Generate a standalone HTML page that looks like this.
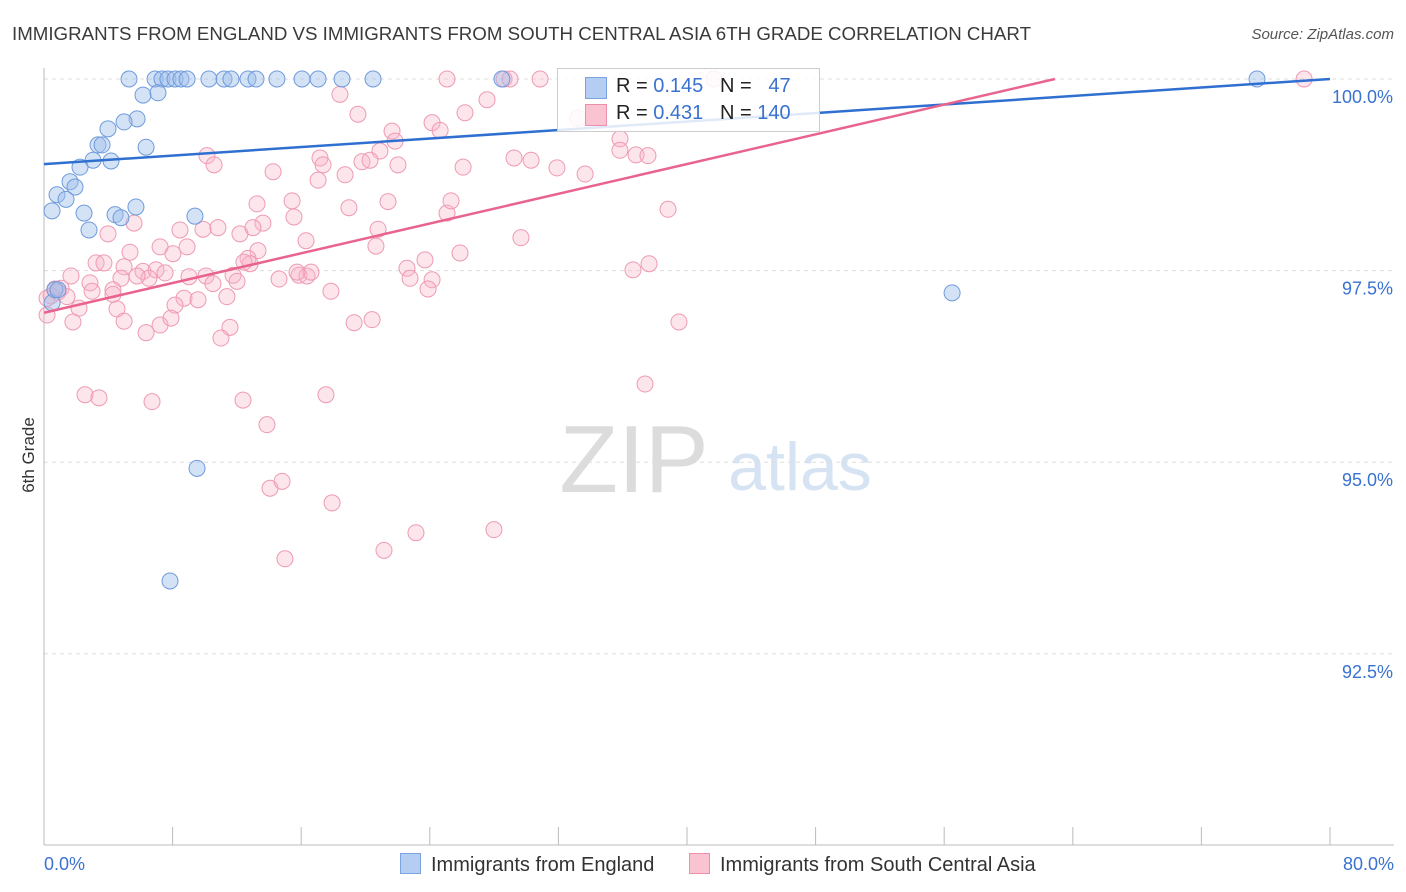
<!DOCTYPE html>
<html><head><meta charset="utf-8">
<style>
body{margin:0;background:#fff;font-family:"Liberation Sans",sans-serif;}
#wrap{position:relative;width:1406px;height:892px;overflow:hidden;}
svg text{font-family:"Liberation Sans",sans-serif;}
</style></head>
<body><div id="wrap">
<svg id="c" width="1406" height="892">
<text x="12" y="40" font-size="18" fill="#3a3a3a" textLength="1019" lengthAdjust="spacingAndGlyphs">IMMIGRANTS FROM ENGLAND VS IMMIGRANTS FROM SOUTH CENTRAL ASIA 6TH GRADE CORRELATION CHART</text>
<text x="1394" y="39" font-size="15" fill="#555" text-anchor="end" font-style="italic">Source: ZipAtlas.com</text>
<text x="34" y="455" font-size="17" fill="#333" transform="rotate(-90 34 455)" text-anchor="middle">6th Grade</text>
<text x="634" y="492" font-size="96" fill="#dcdcdc" font-family="Liberation Serif" text-anchor="middle">ZIP</text>
<text x="800" y="490" font-size="68" fill="#d5e3f3" text-anchor="middle">atlas</text>
<g id="grid"></g><g id="pts"></g><g id="lines"></g>
</svg>
<div style="position:absolute;left:557px;top:68px;width:261px;height:62px;border:1px solid #ccc;background:rgba(255,255,255,0.85);font-size:20px;color:#222">
 <div style="position:absolute;left:27px;top:8px;width:20px;height:20px;background:#b5cdf2;border:1px solid #7aa3e0"></div>
 <div style="position:absolute;left:58px;top:6px;white-space:pre">R = <span style="color:#3a72d0">0.145</span>   N =   <span style="color:#3a72d0">47</span></div>
 <div style="position:absolute;left:27px;top:35px;width:20px;height:20px;background:#f9c3d2;border:1px solid #ec8fab"></div>
 <div style="position:absolute;left:58px;top:33px;white-space:pre">R = <span style="color:#3a72d0">0.431</span>   N = <span style="color:#3a72d0">140</span></div>
</div>
<div style="position:absolute;left:400px;top:853px;font-size:20px;color:#333;white-space:nowrap"><span style="display:inline-block;width:19px;height:19px;background:#b5cdf2;border:1px solid #7aa3e0;vertical-align:-3px;margin-right:10px"></span>Immigrants from England</div>
<div style="position:absolute;left:689px;top:853px;font-size:20px;color:#333;white-space:nowrap"><span style="display:inline-block;width:19px;height:19px;background:#f9c3d2;border:1px solid #ec8fab;vertical-align:-3px;margin-right:10px"></span>Immigrants from South Central Asia</div>
</div>
<script>
const yTicks=[100,97.5,95,92.5];
const yTickLabels=["100.0%","97.5%","95.0%","92.5%"];
const xTickLabels=["0.0%","80.0%"];
const englandX=[5.29,6.91,7.34,7.71,8.15,8.52,8.90,10.26,11.20,11.63,12.69,13.19,14.49,16.05,17.05,18.54,20.47,28.49,75.46,6.16,7.09,5.79,4.98,3.98,3.36,3.61,6.35,3.05,4.17,2.24,1.62,1.93,0.81,1.37,0.50,2.49,5.72,4.42,4.79,2.80,9.39,0.50,0.68,56.49,9.52,7.84,0.87];
const englandY=[100,100,100,100,100,100,100,100,100,100,100,100,100,100,100,100,100,100,100,99.79,99.82,99.48,99.44,99.35,99.14,99.14,99.11,98.94,98.93,98.85,98.66,98.59,98.49,98.43,98.28,98.25,98.33,98.23,98.19,98.03,98.21,97.08,97.25,97.21,94.92,93.45,97.25];
const asiaX=[25.07,28.62,28.99,30.86,41.68,78.39,18.41,27.56,26.19,19.53,24.14,24.64,21.65,21.84,35.83,33.22,35.83,36.83,37.57,10.14,10.58,17.17,17.36,20.90,19.78,20.28,22.02,26.07,29.24,30.30,31.91,33.66,17.05,18.73,14.25,13.25,15.43,18.97,21.40,25.07,25.32,38.82,5.60,3.98,8.46,9.89,10.82,12.19,13.62,13.00,15.55,16.30,20.78,20.65,29.67,7.22,5.35,8.02,8.90,13.31,12.69,12.82,12.44,25.88,23.70,22.58,22.77,24.14,23.89,36.64,37.64,3.24,3.73,1.68,4.98,6.16,6.97,7.53,6.53,4.79,5.79,10.08,9.02,10.51,11.76,12.01,14.62,15.86,16.36,16.61,15.74,2.86,2.99,1.06,0.87,0.68,0.44,1.43,4.29,4.29,0.19,0.19,2.18,4.54,8.71,8.15,9.58,11.38,17.85,1.80,4.98,7.22,7.90,6.35,11.57,11.01,19.29,20.41,39.50,37.39,2.55,3.42,6.72,12.38,17.54,13.87,14.06,14.81,17.92,14.99,21.15,23.14,27.99];
const asiaY=[100,100,100,100,100,100,99.80,99.73,99.56,99.54,99.43,99.33,99.32,99.19,99.22,99.49,99.07,99.01,99.00,99.00,98.88,98.97,98.88,99.06,98.92,98.94,98.88,98.85,98.97,98.94,98.84,98.76,98.68,98.75,98.79,98.37,98.41,98.32,98.40,98.25,98.41,98.30,98.12,97.98,98.03,98.04,98.06,97.98,98.12,98.06,98.20,97.89,98.04,97.82,97.93,97.81,97.74,97.72,97.81,97.76,97.66,97.59,97.61,97.73,97.64,97.53,97.40,97.38,97.26,97.51,97.59,97.60,97.60,97.43,97.55,97.49,97.51,97.47,97.40,97.40,97.43,97.43,97.42,97.33,97.44,97.36,97.39,97.44,97.43,97.48,97.48,97.34,97.23,97.27,97.22,97.26,97.17,97.16,97.25,97.19,97.14,96.92,97.01,97.00,97.14,97.05,97.12,97.16,97.23,96.83,96.84,96.79,96.88,96.69,96.76,96.62,96.82,96.86,96.83,96.02,95.88,95.84,95.79,95.81,95.88,95.49,94.66,94.75,94.47,93.74,93.85,94.08,94.12];
const englandTrend=[98.89,100.0];   // y at x=0 and x=80
const asiaTrend=[96.95,0.0485];     // intercept, slope
const X=v=>44+v/80*1286;
const Y=v=>79+(100-v)*76.64;
const NS="http://www.w3.org/2000/svg";
function mk(tag,attrs,parent){const e=document.createElementNS(NS,tag);for(const k in attrs)e.setAttribute(k,attrs[k]);parent.appendChild(e);return e;}
const grid=document.getElementById('grid'),svg=document.getElementById('c');
yTicks.forEach((t,i)=>{
 const l=mk('line',{x1:44,x2:1394,y1:Y(t),y2:Y(t),stroke:'#ddd','stroke-dasharray':'4 4'},grid);
 
 
 const tx=mk('text',{x:1393,y:Y(t)+24,'font-size':18,fill:'#3a72d0','text-anchor':'end'},grid);
 tx.textContent=yTickLabels[i];
 
 
});
const ax=mk('line',{x1:44,x2:44,y1:68,y2:845,stroke:'#bbb'},grid);


const bx=mk('line',{x1:44,x2:1394,y1:845,y2:845,stroke:'#bbb'},grid);


for(let i=0;i<=10;i++){
 const t=mk('line',{x1:X(i*8),x2:X(i*8),y1:827,y2:845,stroke:'#bbb'},grid);
 
 
}
[[0,'start',44],[80,'end',1394]].forEach((d,i)=>{
 const tx=mk('text',{x:d[2],y:870,'font-size':18,fill:'#3a72d0','text-anchor':d[1]},grid);
 tx.textContent=xTickLabels[i];
 
 
});
const pts=document.getElementById('pts');
asiaX.forEach((x,i)=>{
 const c=mk('circle',{cx:X(x),cy:Y(asiaY[i]),r:8,fill:'rgba(249,180,200,0.35)',stroke:'#ee9ab3','stroke-width':1},pts);
 
 
});
englandX.forEach((x,i)=>{
 const c=mk('circle',{cx:X(x),cy:Y(englandY[i]),r:8,fill:'rgba(160,190,235,0.45)',stroke:'#6f9bdc','stroke-width':1},pts);
 
 
});
const lines=document.getElementById('lines');
const bl=mk('line',{x1:X(0),y1:Y(englandTrend[0]),x2:X(80),y2:Y(englandTrend[1]),stroke:'#2f6fd0','stroke-width':2.5},lines);


const xEnd=(100-asiaTrend[0])/asiaTrend[1];
const pl=mk('line',{x1:X(0),y1:Y(asiaTrend[0]),x2:X(xEnd),y2:Y(100),stroke:'#e8648f','stroke-width':2.5},lines);


</script>
</body></html>
